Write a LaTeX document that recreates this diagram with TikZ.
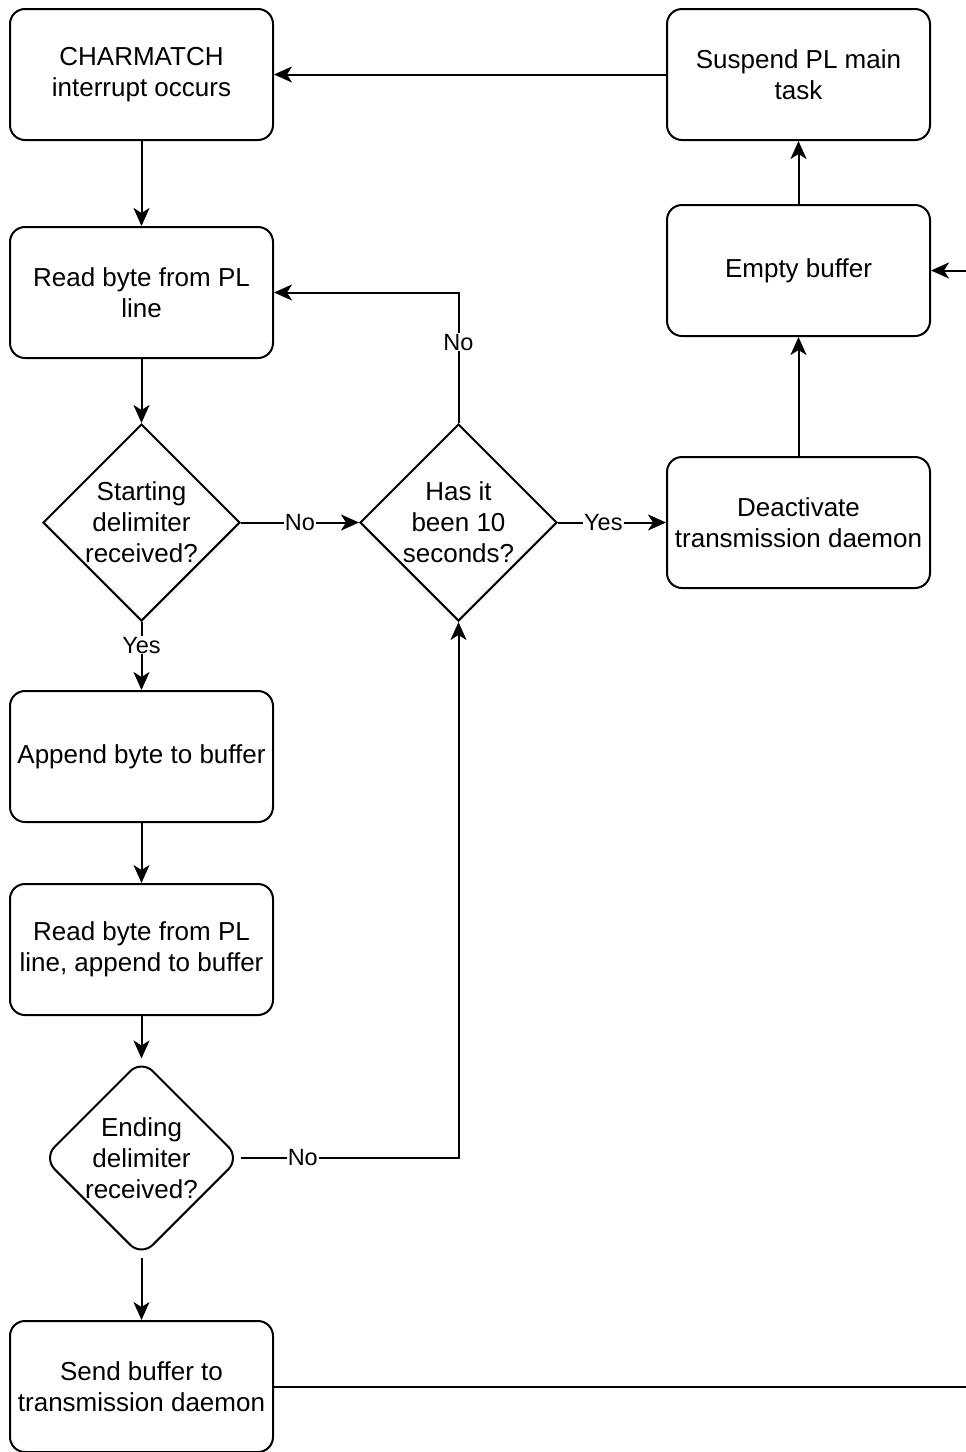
\documentclass[tikz,border=0pt]{standalone}
\usepackage{fontspec}
\setmainfont{Liberation Sans}
\usetikzlibrary{shapes.geometric,arrows.meta}
\begin{document}
\begin{tikzpicture}[x=1pt,y=-1pt,
  box/.style={draw, line width=2pt, rounded corners=15pt, minimum width=263pt, minimum height=131pt, align=center, font=\fontsize{26}{31}\selectfont, inner sep=0pt},
  dia/.style={draw, diamond, line width=2pt, minimum width=197pt, minimum height=197pt, inner sep=0pt},
  txt/.style={align=center, font=\fontsize{26}{31}\selectfont, inner sep=0pt},
  arr/.style={line width=2pt, -{Stealth[length=18pt,width=16pt,inset=5pt]}},
  plain/.style={line width=2pt},
  lbl/.style={fill=white, font=\fontsize{23.5}{27}\selectfont, inner sep=1pt}
]
\useasboundingbox (0,0) rectangle (966,1452);
\fill[white] (0,0) rectangle (966,1452);

\node[box] (cm) at (141.5,74.5) {CHARMATCH\\interrupt occurs};
\node[box] (sus) at (798.5,74.5) {Suspend PL main\\task};
\node[box] (rb) at (141.5,292.5) {Read byte from PL\\line};
\node[box] (eb) at (798.5,270.5) {Empty buffer};
\node[box] (deact) at (798.5,522.5) {Deactivate\\transmission daemon};
\node[dia] (sd) at (141.5,522.5) {};
\node[txt] (sdt) at (sd.center) {Starting\\delimiter\\received?};
\node[dia] (h10) at (458.5,522.5) {};
\node[txt] (h10t) at (h10.center) {Has it\\been 10\\seconds?};
\node[box] (app) at (141.5,756.5) {Append byte to buffer};
\node[box] (rba) at (141.5,949.5) {Read byte from PL\\line, append to buffer};
\node[dia, rounded corners=16pt] (ed) at (141.5,1158) {};
\node[txt] (edt) at (ed.center) {Ending\\delimiter\\received?};
\node[box] (send) at (141.5,1386.5) {Send buffer to\\transmission daemon};

\coordinate (r1) at (966,1386.5);
\coordinate (r2) at (966,270.5);

\draw[arr] (sus) -- (cm);
\draw[arr] (cm) -- (rb);
\draw[arr] (rb) -- (sd);
\draw[arr] (sd) -- node[lbl]{No} (h10);
\draw[arr] (h10.north) |- node[lbl, pos=0.31]{No} (rb.east);
\draw[arr] (h10) -- node[lbl, pos=0.42]{Yes} (deact);
\draw[arr] (deact) -- (eb);
\draw[arr] (eb) -- (sus);
\draw[arr] (sd) -- node[lbl, pos=0.34]{Yes} (app);
\draw[arr] (app) -- (rba);
\draw[arr] (rba) -- (ed);
\draw[arr] (ed.east) -| node[lbl, pos=0.142]{No} (h10.south);
\draw[arr] (ed) -- (send);
\draw[plain] (send) -- (r1);
\draw[arr] (r2) -- (eb);
\end{tikzpicture}
\end{document}
